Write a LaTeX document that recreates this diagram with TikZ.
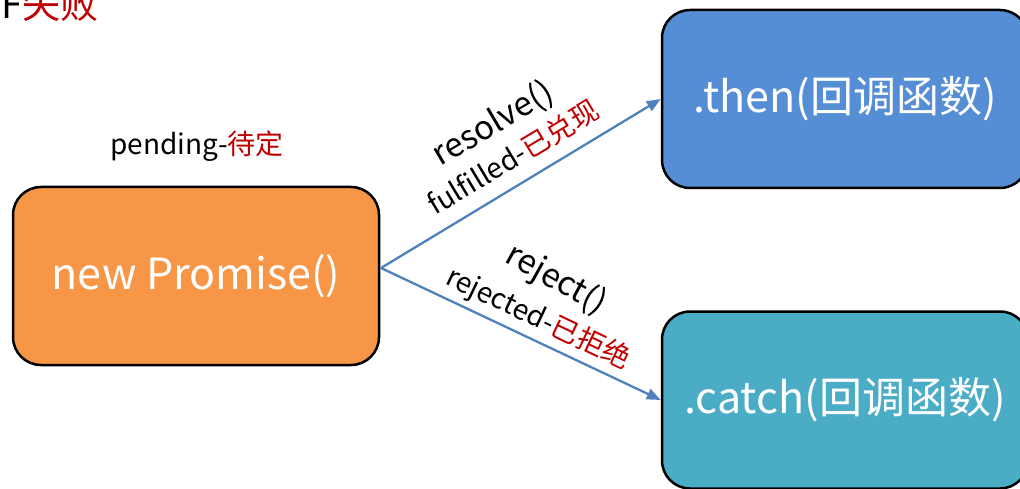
\documentclass[tikz,border=0pt]{standalone}
\usepackage{fontspec}
\setmainfont{Noto Sans CJK SC}
\usetikzlibrary{arrows.meta,positioning,calc}
\definecolor{boxorange}{HTML}{F79646}
\definecolor{boxblue}{HTML}{558ED5}
\definecolor{boxteal}{HTML}{4BACC6}
\definecolor{arrowblue}{HTML}{4F81BD}
\definecolor{redtxt}{HTML}{C00000}
\tikzset{
  box/.style={draw=black, line width=2.5pt, rounded corners=28pt, minimum width=366pt, minimum height=178pt, text=white, font=\fontsize{43}{48}\selectfont, inner sep=0pt},
  conn/.style={draw=arrowblue, line width=2.3pt, -{Triangle[length=14pt,width=11pt]}},
  lbl/.style={font=\fontsize{28}{32}\selectfont, inner sep=0pt},
  lblbig/.style={font=\fontsize{33}{38}\selectfont, inner sep=0pt},
}
\begin{document}
\begin{tikzpicture}[x=1pt,y=-1pt]
\useasboundingbox (0,0) rectangle (1020,489);
\clip (0,0) rectangle (1020,489);
\node[box, fill=boxorange] (p) at (196,276) {new Promise()};
\node[box, fill=boxblue, minimum height=178pt] (t) at (845,99) {.then(回调函数)};
\node[box, fill=boxteal, minimum height=177pt] (c) at (845,400) {.catch(回调函数)};
\node[anchor=base west, inner sep=0pt, font=\fontsize{38}{42}\selectfont] (f) at (1,19) {F\textcolor{redtxt}{失败}};
\node[lbl] (pend) at (197,146) {pending-\textcolor{redtxt}{待定}};
\coordinate (s) at (381,268);
\draw[conn] (s) -- (t.west);
\draw[conn] (s) -- (c.west);
\node[lblbig, rotate=30.5] (res) at (493,124) {resolve()};
\node[lbl, rotate=31] (ful) at (513,157) {fulfilled-\textcolor{redtxt}{已兑现}};
\node[lblbig, rotate=-29] (rej) at (556,280) {reject()};
\node[lbl, rotate=-25.5] (rejd) at (538,319) {rejected-\textcolor{redtxt}{已拒绝}};
\end{tikzpicture}
\end{document}
